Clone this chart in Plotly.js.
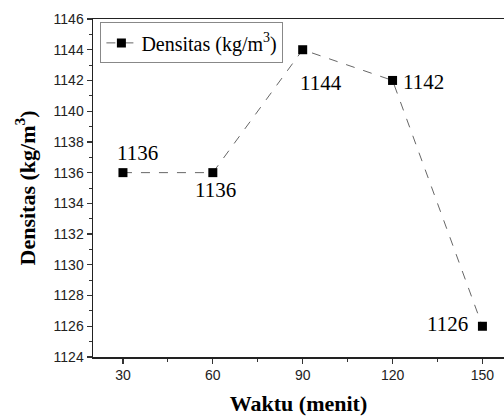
<!DOCTYPE html>
<html><head><meta charset="utf-8">
<script src="https://cdn.plot.ly/plotly-3.0.1.min.js"></script>
<style>body{margin:0;padding:0;background:#fff}#chart{width:504px;height:416px}</style>
</head><body><div id="chart"></div>
<script>
const waktu = [30, 60, 90, 120, 150];
const densitas = [1136, 1136, 1144, 1142, 1126];
const labels = ['1136', '1136', '1144', '1142', '1126'];
const labelShiftX = [15, 3, 18, 31, -35];
const labelShiftY = [20, -17, -33, -2, 2];

const trace = {
  x: waktu, y: densitas, type: 'scatter', mode: 'lines+markers',
  name: 'Densitas (kg/m<sup>3</sup>)',
  line: {color: '#666', width: 1, dash: 'dash'},
  marker: {symbol: 'square', size: 9, color: '#000'}
};

const annotations = waktu.map((x, i) => ({
  x: x, y: densitas[i], text: labels[i], showarrow: false,
  xshift: labelShiftX[i], yshift: labelShiftY[i],
  font: {family: 'Liberation Serif, Times New Roman, serif', size: 21, color: '#000'}
}));

const tickFont = {family: 'Liberation Sans, Arial, sans-serif', size: 14, color: '#222'};
const titleFont = {family: 'Liberation Serif, Times New Roman, serif', size: 22, color: '#000', weight: 'bold'};

const layout = {
  width: 504, height: 416,
  margin: {l: 93, r: 0, t: 19, b: 59},
  paper_bgcolor: '#fff', plot_bgcolor: '#fff',
  showlegend: true,
  legend: {x: 0.018, y: 0.99, xanchor: 'left', yanchor: 'top',
    bgcolor: '#fff', bordercolor: '#888', borderwidth: 1,
    font: {family: 'Liberation Serif, Times New Roman, serif', size: 20, color: '#000'}},
  xaxis: {
    range: [20, 157.2], tickvals: waktu, ticktext: waktu.map(String),
    ticks: 'outside', ticklen: 5, tickwidth: 1.2, tickcolor: '#333',
    showline: true, linecolor: '#222', linewidth: 1.5, mirror: true,
    showgrid: false, zeroline: false, tickfont: tickFont,
    minor: {ticks: 'outside', ticklen: 3, tickwidth: 1, tickcolor: '#333', dtick: 15, tick0: 15, showgrid: false},
    title: {text: 'Waktu (menit)', font: titleFont, standoff: 13}
  },
  yaxis: {
    range: [1124, 1146], dtick: 2, tick0: 1124,
    ticks: 'outside', ticklen: 5, tickwidth: 1.2, tickcolor: '#333',
    showline: true, linecolor: '#222', linewidth: 1.5,
    showgrid: false, zeroline: false, tickfont: tickFont,
    minor: {ticks: 'outside', ticklen: 3, tickwidth: 1, tickcolor: '#333', dtick: 1, showgrid: false},
    title: {text: 'Densitas (kg/m<sup>3</sup>)', font: titleFont, standoff: 12}
  },
  annotations: annotations
};

Plotly.newPlot('chart', [trace], layout, {displayModeBar: false, staticPlot: true});
</script></body></html>
